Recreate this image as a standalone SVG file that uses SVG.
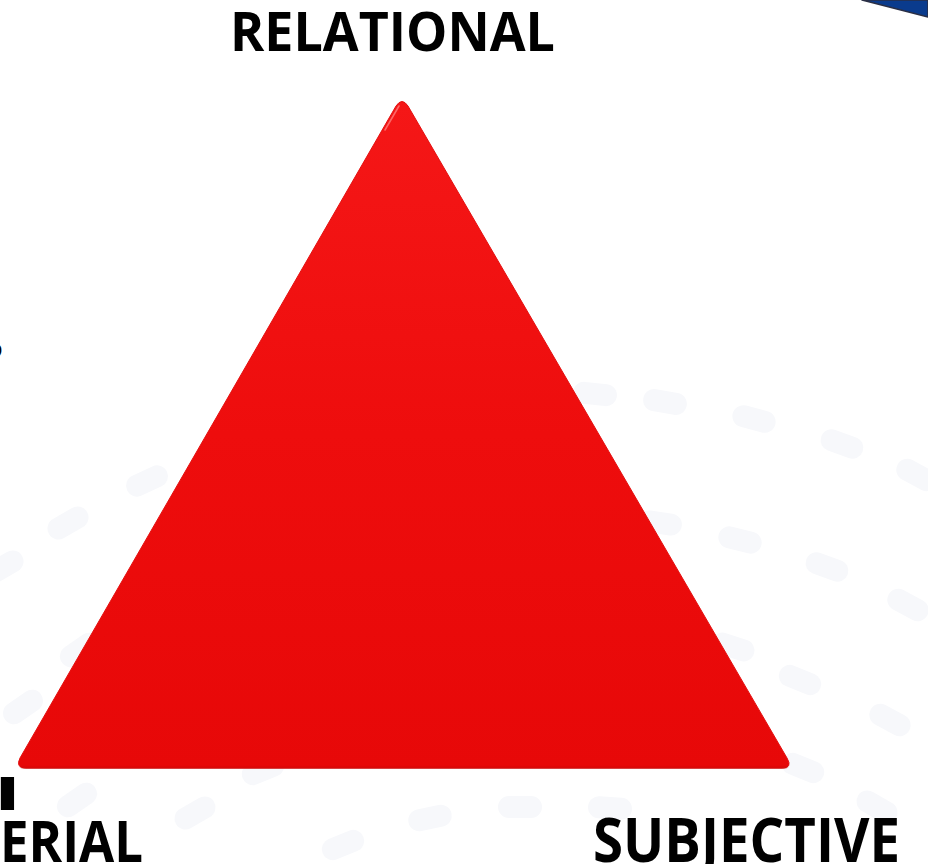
<svg xmlns="http://www.w3.org/2000/svg" width="928" height="864" viewBox="0 0 928 864">
  <defs>
    <linearGradient id="redFill" x1="0" y1="0" x2="0" y2="1">
      <stop offset="0" stop-color="#f51717"/>
      <stop offset="0.5" stop-color="#ee0d0d"/>
      <stop offset="1" stop-color="#e70808"/>
    </linearGradient>
    <linearGradient id="edgeShade" x1="0" y1="0" x2="0" y2="1">
      <stop offset="0" stop-color="#c80404" stop-opacity="0"/>
      <stop offset="1" stop-color="#c00303" stop-opacity="0.6"/>
    </linearGradient>
    <style>
      .label { font-family: "Open Sans", "Liberation Sans", sans-serif; font-weight: 700; fill: #000; }
      .dash { fill: #f7f8fb; }
    </style>
  </defs>

  <rect width="928" height="864" fill="#ffffff"/>

  <!-- faint decorative dashes in the background -->
  <g id="dashes" class="dash">
    <rect x="573" y="383" width="44" height="22" rx="11" transform="rotate(6 595 394)"/>
    <rect x="643" y="391" width="44" height="22" rx="11" transform="rotate(10 665 402)"/>
    <rect x="732" y="408" width="44" height="22" rx="11" transform="rotate(15 754 419)"/>
    <rect x="820" y="433" width="44" height="22" rx="11" transform="rotate(20 842 444)"/>
    <rect x="895" y="464" width="44" height="22" rx="11" transform="rotate(28 917 475)"/>
    <rect x="638" y="512" width="44" height="22" rx="11" transform="rotate(8 660 523)"/>
    <rect x="718" y="529" width="44" height="22" rx="11" transform="rotate(14 740 540)"/>
    <rect x="805" y="556" width="44" height="22" rx="11" transform="rotate(20 827 567)"/>
    <rect x="886" y="594" width="44" height="22" rx="11" transform="rotate(28 908 605)"/>
    <rect x="711" y="636" width="44" height="22" rx="11" transform="rotate(18 733 647)"/>
    <rect x="778" y="669" width="44" height="22" rx="11" transform="rotate(22 800 680)"/>
    <rect x="868" y="709" width="44" height="22" rx="11" transform="rotate(28 890 720)"/>
    <rect x="781" y="757" width="44" height="22" rx="11" transform="rotate(22 803 768)"/>
    <rect x="855" y="796" width="44" height="22" rx="11" transform="rotate(30 877 807)"/>
    <rect x="588" y="797" width="44" height="22" rx="11" transform="rotate(4 610 808)"/>
    <rect x="498" y="796" width="44" height="22" rx="11"/>
    <rect x="408" y="807" width="44" height="22" rx="11" transform="rotate(-12 430 818)"/>
    <rect x="321" y="834" width="44" height="22" rx="11" transform="rotate(-22 343 845)"/>
    <rect x="241" y="759" width="44" height="22" rx="11" transform="rotate(-22 263 770)"/>
    <rect x="173" y="802" width="44" height="22" rx="11" transform="rotate(-30 195 813)"/>
    <rect x="55" y="789" width="44" height="22" rx="11" transform="rotate(-35 77 800)"/>
    <rect x="125" y="470" width="44" height="22" rx="11" transform="rotate(-25 147 481)"/>
    <rect x="46" y="512" width="44" height="22" rx="11" transform="rotate(-30 68 523)"/>
    <rect x="-19" y="556" width="44" height="22" rx="11" transform="rotate(-30 3 567)"/>
    <rect x="58" y="639" width="44" height="22" rx="11" transform="rotate(-35 80 650)"/>
    <rect x="1" y="696" width="44" height="22" rx="11" transform="rotate(-35 23 707)"/>
  </g>

  <!-- blue corner shape, top right -->
  <g id="corner">
    <polygon points="862,0 928,0 928,17" fill="#0a3b8d" stroke="#2a2f45" stroke-width="1.5" stroke-linejoin="round"/>
  </g>

  <!-- main triangle -->
  <g id="triangle">
    <path d="M396,106 Q402,97 408,106 L787,758 Q793,768 782,768 L26,768 Q15,768 20,758 Z"
          fill="url(#redFill)" stroke="#e41010" stroke-width="1"/>
    <path d="M22,765 L786,765 Q792,767 784,769 L24,769 Q16,767 22,765 Z" fill="url(#edgeShade)"/>
    <path d="M399,106 L385,130" stroke="#ff7a7a" stroke-width="1.6" stroke-linecap="round" opacity="0.8"/>
  </g>

  <!-- vertex labels -->
  <g id="label-relational">
    <text class="label" x="230" y="51" font-size="54" textLength="325" lengthAdjust="spacingAndGlyphs">RELATIONAL</text>
  </g>
  <g id="label-subjective">
    <text class="label" x="593" y="862" font-size="61" textLength="307" lengthAdjust="spacingAndGlyphs">SUBJECTIVE</text>
  </g>
  <g id="label-material">
    <text class="label" font-size="46" transform="translate(-7 810) scale(1.9 1)">I</text>
    <text class="label" x="0" y="862" font-size="58" textLength="143" lengthAdjust="spacingAndGlyphs">ERIAL</text>
  </g>
  <g id="label-left">
    <text class="label" x="-13" y="358" font-size="21">D</text>
  </g>
</svg>
